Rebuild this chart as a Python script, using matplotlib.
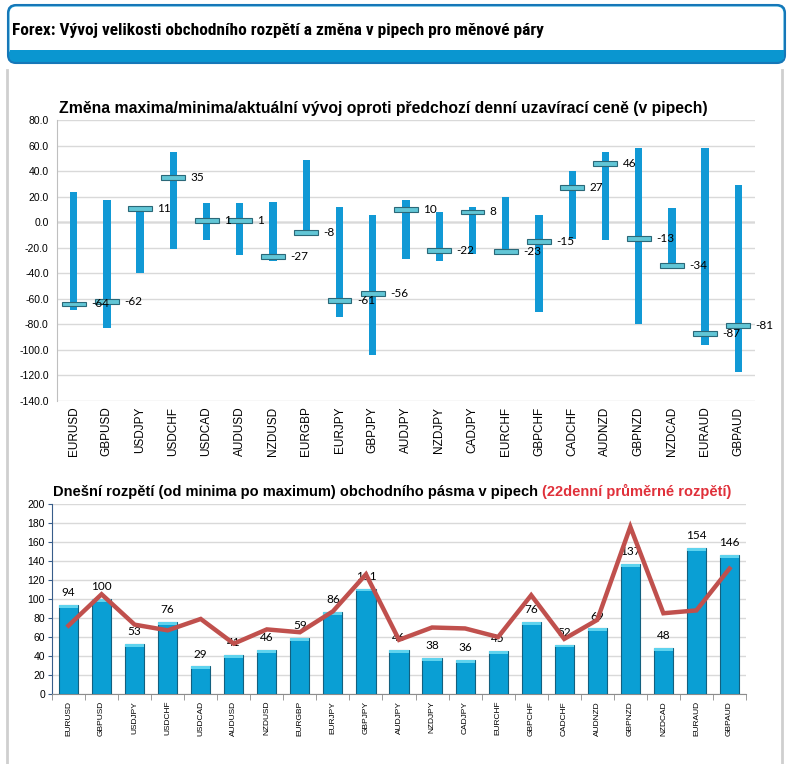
import numpy as np
import matplotlib
matplotlib.use('Agg')
import matplotlib.pyplot as plt
from matplotlib import font_manager
from matplotlib.patches import FancyBboxPatch, Rectangle

# data
PAIRS = ['EURUSD', 'GBPUSD', 'USDJPY', 'USDCHF', 'USDCAD', 'AUDUSD', 'NZDUSD',
         'EURGBP', 'EURJPY', 'GBPJPY', 'AUDJPY', 'NZDJPY', 'CADJPY', 'EURCHF',
         'GBPCHF', 'CADCHF', 'AUDNZD', 'GBPNZD', 'NZDCAD', 'EURAUD', 'GBPAUD']

MAX_VALS = [24, 17, 12, 55, 15, 15, 16, 49, 12, 6, 17, 8, 12, 20, 6, 40, 55, 58, 11, 58, 29]
MIN_VALS = [-69, -83, -40, -21, -14, -26, -30, -9, -74, -104, -29, -30, -25, -23, -70,
            -13, -14, -80, -37, -96, -117]
CUR_VALS = [-64, -62, 11, 35, 1, 1, -27, -8, -61, -56, 10, -22, 8, -23, -15, 27, 46,
            -13, -34, -87, -81]

RANGE_TODAY = [94, 100, 53, 76, 29, 41, 46, 59, 86, 111, 46, 38, 36, 45, 76, 52, 69,
               137, 48, 154, 146]
RANGE_22D = [72, 105, 73, 67, 79, 53, 68, 65, 87, 126, 57, 70, 69, 60, 104, 58, 78,
             176, 85, 88, 132]

TITLE = 'Forex: Vývoj velikosti obchodního rozpětí a změna v pipech pro měnové páry'
TITLE_TOP = 'Změna maxima/minima/aktuální vývoj oproti předchozí denní uzavírací ceně (v pipech)'
TITLE_BOT = 'Dnešní rozpětí (od minima po maximum) obchodního pásma v pipech '
TITLE_BOT_RED = '(22denní průměrné rozpětí)'

W, H = 793, 764
BLUE = '#1199d5'
SANS = ['Liberation Sans', 'DejaVu Sans']
LABEL = ['Lato', 'DejaVu Sans']

plt.rcParams['font.family'] = SANS


def px_axes(fig, l, t, r, b):
  return fig.add_axes([l / W, 1 - b / H, (r - l) / W, (b - t) / H])


def narrow_family():
  """First installed condensed family, else plain Liberation Sans"""
  for name in ['Roboto Condensed', 'Liberation Sans Narrow', 'Arial Narrow',
               'Open Sans Condensed', 'Noto Sans Condensed']:
    try:
      font_manager.findfont(font_manager.FontProperties(family=name),
                            fallback_to_default=False)
      return name
    except ValueError:
      pass
  return 'Liberation Sans'


fig = plt.figure(figsize=(W / 100, H / 100), dpi=100)
fig.patch.set_facecolor('white')

# background frame
#---------------------------------------------------------------------------#
bg = fig.add_axes([0, 0, 1, 1], zorder=-5)
bg.set_xlim(0, W)
bg.set_ylim(H, 0)
bg.axis('off')

bg.add_patch(FancyBboxPatch((8, 5), 777, 58, boxstyle='round,pad=0,rounding_size=8',
                            facecolor='#0a96d0', edgecolor='#1677b8', lw=1.5))
bg.add_patch(FancyBboxPatch((9.5, 6.5), 774, 50, boxstyle='round,pad=0,rounding_size=7',
                            facecolor='white', edgecolor='none'))
bg.add_patch(Rectangle((9.5, 50), 774, 9, facecolor='#0a96d0', edgecolor='none'))

fam = narrow_family()
head = bg.text(12, 35.5, TITLE, fontsize=14, fontweight='bold', family=[fam, 'DejaVu Sans'],
               va='baseline', ha='left', color='black')
fig.canvas.draw()
wd = head.get_window_extent().width
head.set_fontsize(min(14, max(12.5, 14 * 470 / wd)))

bg.plot([7, 7], [70, H], color='#cfcfcf', lw=2)
bg.plot([782, 782], [70, H], color='#cfcfcf', lw=2)

# 1. max/min/current change chart
#---------------------------------------------------------------------------#
ax = px_axes(fig, 57, 120, 755, 401)
x = np.arange(len(PAIRS))
mx = np.array(MAX_VALS)
mn = np.array(MIN_VALS)
cur = np.array(CUR_VALS)

ax.bar(x, mx - mn, bottom=mn, width=0.22, color=BLUE, zorder=3)
ax.bar(x, 3.8, bottom=cur - 1.9, width=0.72, color='#62c6d6', edgecolor='#2b6878',
       lw=0.8, zorder=4)
for xi, c in zip(x, cur):
  ax.text(xi + 0.52, c, '{}'.format(c), fontsize=8.5, family=LABEL, va='center',
          ha='left', zorder=5)

ax.set_xlim(-0.5, len(PAIRS) - 0.5)
ax.set_ylim(-140, 80)
ax.set_yticks(np.arange(-140, 81, 20))
ax.set_yticklabels(['{:.1f}'.format(v) for v in np.arange(-140, 81, 20)], fontsize=7.5)
ax.set_xticks(x)
ax.set_xticklabels(PAIRS, rotation=90, fontsize=8.5)
ax.tick_params(length=0, pad=6)
ax.tick_params(axis='x', pad=4)
ax.grid(axis='y', color='#d9d9d9', lw=1, zorder=0)
ax.axhline(0, color='#8c8c8c', lw=1, zorder=1)
for s in ['top', 'right', 'bottom']:
  ax.spines[s].set_visible(False)
ax.spines['left'].set_color('#bfbfbf')
ax.set_facecolor('none')

fig.text(59 / W, 1 - 113 / H, TITLE_TOP, fontsize=11.3, fontweight='bold',
         va='baseline', ha='left')

# 2. today's range vs. 22 day average range
#---------------------------------------------------------------------------#
ax2 = px_axes(fig, 52, 504, 746, 694)
rt = np.array(RANGE_TODAY)

ax2.bar(x, rt, width=0.58, color='#0a9fd4', edgecolor='#13607f', lw=0.8, zorder=3)
ax2.bar(x, 3, bottom=rt - 3, width=0.58, color='#5fd3ee', edgecolor='none', zorder=4)
for xi, v in zip(x, rt):
  ax2.annotate('{}'.format(v), (xi, v), xytext=(0, 5), textcoords='offset points',
               ha='center', va='bottom', fontsize=8.5, family=LABEL, zorder=5)
ax2.plot(x, RANGE_22D, color='#c0504d', lw=3.2, zorder=6, solid_joinstyle='miter')

ax2.set_xlim(-0.5, len(PAIRS) - 0.5)
ax2.set_ylim(0, 200)
ax2.set_yticks(np.arange(0, 201, 20))
ax2.tick_params(axis='y', labelsize=7.5, length=3, color='#385d8a', pad=2)
ax2.set_xticks(x)
ax2.set_xticklabels(PAIRS, rotation=90, fontsize=6)
ax2.set_xticks(np.arange(-0.5, len(PAIRS)), minor=True)
ax2.tick_params(axis='x', which='major', length=0, pad=5)
ax2.tick_params(axis='x', which='minor', length=4, color='#8c8c8c')
ax2.grid(axis='y', color='#d9d9d9', lw=1, zorder=0)
for s in ['top', 'right']:
  ax2.spines[s].set_visible(False)
ax2.spines['left'].set_color('#385d8a')
ax2.spines['bottom'].set_color('#8c8c8c')
ax2.set_facecolor('none')

t1 = fig.text(53 / W, 1 - 496 / H, TITLE_BOT, fontsize=10.5, fontweight='bold',
              va='baseline', ha='left')
fig.canvas.draw()
bb = t1.get_window_extent()
fig.text(bb.x1 / W, 1 - 496 / H, TITLE_BOT_RED, fontsize=10.5, fontweight='bold',
         va='baseline', ha='left', color='#e0303a')

plt.savefig('out.png', dpi=100)
